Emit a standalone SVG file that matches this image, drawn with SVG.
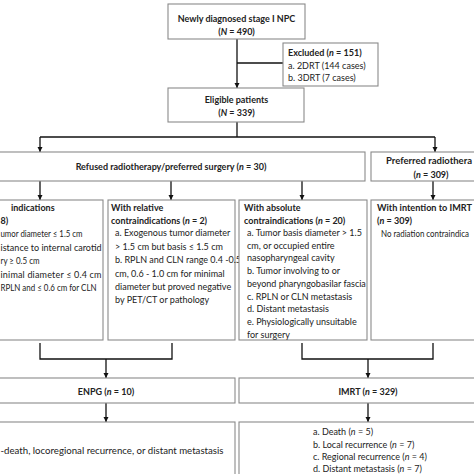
<svg xmlns="http://www.w3.org/2000/svg" width="474" height="474" viewBox="0 0 474 474">
<defs>
<marker id="ah" markerWidth="6" markerHeight="6" refX="5" refY="3" orient="auto" markerUnits="userSpaceOnUse">
<path d="M0,0.5 L5,3 L0,5.5 Z" fill="#111"/>
</marker>
<style>
.box{fill:#fff;stroke:#8a8a8a;stroke-width:1.1}
.ln{fill:none;stroke:#111;stroke-width:1.3}
.ar{fill:none;stroke:#111;stroke-width:1.3;marker-end:url(#ah)}
text{font-family:Lato,"Liberation Sans",sans-serif;font-size:9px;fill:#222}
.b{font-weight:bold}
.c{text-anchor:middle}
.e{text-anchor:end}
</style>
</defs>
<rect x="0" y="0" width="474" height="474" fill="#fff"/>
<g id="connectors">
<line class="ar" x1="237" y1="39" x2="237" y2="88"/>
<line class="ln" x1="237" y1="63" x2="283" y2="63"/>
<line class="ln" x1="237" y1="122" x2="237" y2="137"/>
<line class="ln" x1="40" y1="137" x2="435" y2="137"/>
<line class="ar" x1="40" y1="137" x2="40" y2="152"/>
<line class="ar" x1="435" y1="137" x2="435" y2="152"/>
<line class="ar" x1="40" y1="181" x2="40" y2="200"/>
<line class="ar" x1="171" y1="181" x2="171" y2="200"/>
<line class="ar" x1="302" y1="181" x2="302" y2="200"/>
<line class="ar" x1="433" y1="181" x2="433" y2="200"/>
<path class="ln" d="M40,343 V359 H172 V343"/>
<line class="ar" x1="106" y1="359" x2="106" y2="378"/>
<path class="ln" d="M302,343 V359 H433 V343"/>
<line class="ar" x1="368" y1="359" x2="368" y2="378"/>
<line class="ar" x1="106" y1="403" x2="106" y2="422"/>
<line class="ar" x1="368" y1="403" x2="368" y2="422"/>
</g>
<g id="newly">
<rect class="box" x="168" y="4" width="137" height="35"/>
<text class="b c" x="236.5" y="22">Newly diagnosed stage I NPC</text>
<text class="b c" x="236.5" y="35">(<tspan font-style="italic">N</tspan> = 490)</text>
</g>
<g id="excluded">
<rect class="box" x="283" y="43" width="95" height="43"/>
<text class="b" x="288" y="56">Excluded (<tspan font-style="italic">n</tspan> = 151)</text>
<text x="288" y="68.5">a. 2DRT (144 cases)</text>
<text x="288" y="81">b. 3DRT (7 cases)</text>
</g>
<g id="eligible">
<rect class="box" x="168" y="88" width="136" height="34"/>
<text class="b c" x="236.5" y="103">Eligible patients</text>
<text class="b c" x="236.5" y="115.5">(<tspan font-style="italic">N</tspan> = 339)</text>
</g>
<g id="refused">
<rect class="box" x="-25" y="152" width="390" height="29"/>
<text class="b c" x="171" y="170">Refused radiotherapy/preferred surgery (<tspan font-style="italic">n</tspan> = 30)</text>
</g>
<g id="preferred">
<rect class="box" x="371" y="152" width="120" height="29"/>
<text class="b" x="386" y="164" textLength="86" lengthAdjust="spacingAndGlyphs">Preferred radiothera</text>
<text class="b c" x="431" y="178">(<tspan font-style="italic">n</tspan> = 309)</text>
</g>
<g id="indications">
<rect class="box" x="-24" y="200" width="127" height="140"/>
<text class="b" x="11" y="210.5">indications</text>
<text class="b" x="0.5" y="223.5">8)</text>
<text x="0.5" y="237" textLength="82" lengthAdjust="spacingAndGlyphs">umor diameter ≤ 1.5 cm</text>
<text x="0.5" y="250.5" textLength="101" lengthAdjust="spacing">istance to internal carotid</text>
<text x="0.5" y="264" textLength="39" lengthAdjust="spacingAndGlyphs">ry ≥ 0.5 cm</text>
<text x="0.5" y="277.5" textLength="101" lengthAdjust="spacing">inimal diameter ≤ 0.4 cm</text>
<text x="0.5" y="290.5" textLength="96" lengthAdjust="spacingAndGlyphs">RPLN and ≤ 0.6 cm for CLN</text>
</g>
<g id="relative">
<rect class="box" x="108" y="200" width="127" height="140"/>
<text class="b" x="111" y="210.5">With relative</text>
<text class="b" x="111" y="223.5">contraindications (<tspan font-style="italic">n</tspan> = 2)</text>
<text x="115" y="236">a. Exogenous tumor diameter</text>
<text x="115" y="249.5">&gt; 1.5 cm but basis ≤ 1.5 cm</text>
<text x="115" y="263">b. RPLN and CLN range 0.4 -0.5</text>
<text x="115" y="276.5">cm, 0.6 - 1.0 cm for minimal</text>
<text x="115" y="290">diameter but proved negative</text>
<text x="115" y="303">by PET/CT or pathology</text>
</g>
<g id="absolute">
<rect class="box" x="239" y="200" width="128" height="140"/>
<text class="b" x="244" y="210.5">With absolute</text>
<text class="b" x="244" y="223.5">contraindications (<tspan font-style="italic">n</tspan> = 20)</text>
<text x="247" y="236">a. Tumor basis diameter &gt; 1.5</text>
<text x="247" y="248.7">cm, or occupied entire</text>
<text x="247" y="261.4">nasopharyngeal cavity</text>
<text x="247" y="274.1">b. Tumor involving to or</text>
<text x="247" y="286.8">beyond pharyngobasilar fascia</text>
<text x="247" y="299.5">c. RPLN or CLN metastasis</text>
<text x="247" y="312.2">d. Distant metastasis</text>
<text x="247" y="324.9">e. Physiologically unsuitable</text>
<text x="247" y="337.6">for surgery</text>
</g>
<g id="intention">
<rect class="box" x="371" y="200" width="128" height="140"/>
<text class="b" x="377" y="210.5" textLength="95" lengthAdjust="spacingAndGlyphs">With intention to IMRT</text>
<text class="b" x="377" y="223.5">(<tspan font-style="italic">n</tspan> = 309)</text>
<text x="381" y="236.5" font-size="8" textLength="88" lengthAdjust="spacingAndGlyphs">No radiation contraindica</text>
</g>
<g id="enpg">
<rect class="box" x="-24" y="378" width="259" height="25"/>
<text class="b c" x="106" y="395">ENPG (<tspan font-style="italic">n</tspan> = 10)</text>
</g>
<g id="imrt">
<rect class="box" x="239" y="378" width="260" height="25"/>
<text class="b c" x="368" y="395">IMRT (<tspan font-style="italic">n</tspan> = 329)</text>
</g>
<g id="enpg-outcome">
<rect class="box" x="-24" y="422" width="259" height="70"/>
<text x="0.5" y="454" textLength="223" lengthAdjust="spacingAndGlyphs">-death, locoregional recurrence, or distant metastasis</text>
</g>
<g id="imrt-outcome">
<rect class="box" x="239" y="422" width="260" height="70"/>
<text x="313" y="435">a. Death (<tspan font-style="italic">n</tspan> = 5)</text>
<text x="313" y="447.5">b. Local recurrence (<tspan font-style="italic">n</tspan> = 7)</text>
<text x="313" y="460">c. Regional recurrence (<tspan font-style="italic">n</tspan> = 4)</text>
<text x="313" y="472">d. Distant metastasis (<tspan font-style="italic">n</tspan> = 7)</text>
</g>
</svg>
